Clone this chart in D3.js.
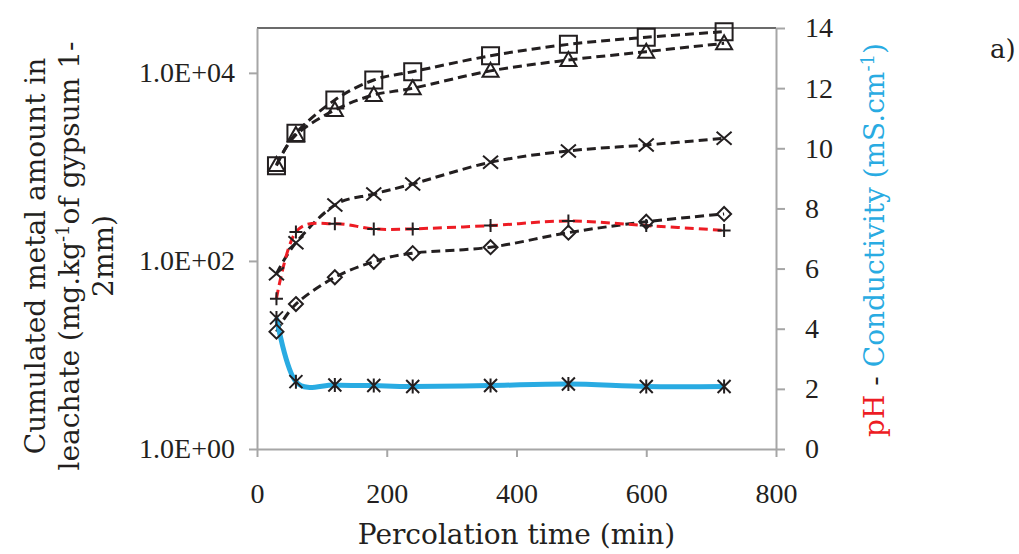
<!DOCTYPE html>
<html>
<head>
<meta charset="utf-8">
<script src="https://cdn.jsdelivr.net/npm/d3@7"></script>
<style>
  html, body { margin: 0; padding: 0; background: #ffffff; }
  svg { display: block; }
</style>
</head>
<body>
<div id="chart"></div>
<script>
// ---- data ----
const times = [30, 60, 120, 180, 240, 360, 480, 600, 720];
const squareVals   = [1030, 2280, 5150, 8400, 10300, 15200, 20100, 23900, 27400];
const triangleVals = [1050, 2190, 4030, 5820, 6860, 10500, 13700, 16800, 20600];
const crossVals    = [73, 156, 393, 515, 658, 1120, 1480, 1710, 2020];
const diamondVals  = [17.7, 34.8, 67, 98, 121, 140, 200, 261, 316];
const phVals       = [5.0, 7.22, 7.49, 7.32, 7.32, 7.43, 7.58, 7.43, 7.27];
const condVals     = [4.36, 2.24, 2.13, 2.11, 2.08, 2.11, 2.16, 2.08, 2.08];

const xTicks = [0, 200, 400, 600, 800];
const yLeftTicks = [1, 100, 10000];
const yRightTicks = [0, 2, 4, 6, 8, 10, 12, 14];

const W = 1019, H = 554;
const plot = { left: 257, right: 776, top: 28, bottom: 449 };
const ink = "#231f20";
const axisGray = "#a6a6a6";
const tickFont = "'Liberation Serif', serif";
const titleFont = "'DejaVu Serif', serif";

const svg = d3.select("#chart").append("svg")
  .attr("width", W).attr("height", H);

const x = d3.scaleLinear().domain([0, 800]).range([plot.left, plot.right]);
const yL = d3.scaleLog().domain([1, 30000]).range([plot.bottom, plot.top]);
const yR = d3.scaleLinear().domain([0, 14]).range([plot.bottom, plot.top]);

// top border of plot area
svg.append("line")
  .attr("x1", plot.left).attr("x2", plot.right)
  .attr("y1", plot.top).attr("y2", plot.top)
  .attr("stroke", "#3a3a3a").attr("stroke-width", 1.5);

function styleAxis(g) {
  g.selectAll("path.domain").attr("stroke", axisGray).attr("stroke-width", 2);
  g.selectAll(".tick line").attr("stroke", axisGray).attr("stroke-width", 2);
  g.selectAll(".tick text").attr("fill", ink)
    .style("font-family", tickFont).style("font-size", "28px");
}

// axes
const gx = svg.append("g").attr("transform", `translate(0,${plot.bottom})`)
  .call(d3.axisBottom(x).tickValues(xTicks).tickSizeInner(8).tickSizeOuter(0).tickPadding(26));
styleAxis(gx);

const fmtE = d => "1.0E+" + String(Math.round(Math.log10(d))).padStart(2, "0");
const gyl = svg.append("g").attr("transform", `translate(${plot.left},0)`)
  .call(d3.axisLeft(yL).tickValues(yLeftTicks).tickFormat(fmtE).tickSizeInner(8).tickSizeOuter(0).tickPadding(14));
styleAxis(gyl);

const gyr = svg.append("g").attr("transform", `translate(${plot.right},0)`)
  .call(d3.axisRight(yR).tickValues(yRightTicks).tickSizeInner(9).tickSizeOuter(0).tickPadding(20));
styleAxis(gyr);

// lines
const curve = d3.curveCardinal.tension(0);
const lineL = d3.line().x(d => x(d[0])).y(d => yL(d[1])).curve(curve);
const lineR = d3.line().x(d => x(d[0])).y(d => yR(d[1])).curve(curve);
const zip = vals => times.map((t, i) => [t, vals[i]]);

const leftSeries = [
  { vals: squareVals, marker: "square" },
  { vals: triangleVals, marker: "triangle" },
  { vals: crossVals, marker: "cross" },
  { vals: diamondVals, marker: "diamond" }
];

leftSeries.forEach(s => {
  svg.append("path").attr("d", lineL(zip(s.vals)))
    .attr("fill", "none").attr("stroke", ink).attr("stroke-width", 3)
    .attr("stroke-dasharray", "9,5");
});
svg.append("path").attr("d", lineR(zip(phVals)))
  .attr("fill", "none").attr("stroke", "#ed1c24").attr("stroke-width", 3)
  .attr("stroke-dasharray", "9,5");
svg.append("path").attr("d", lineR(zip(condVals)))
  .attr("fill", "none").attr("stroke", "#29abe2").attr("stroke-width", 5)
  .attr("stroke-linejoin", "round");

// markers
const markerPaths = {
  square: "M-8.5,-8.5H8.5V8.5H-8.5Z",
  triangle: "M0,-8L8,6H-8Z",
  cross: "M-7.5,-6.5L7.5,6.5M-7.5,6.5L7.5,-6.5",
  diamond: "M0,-7L7,0L0,7L-7,0Z",
  plus: "M-6.5,0H6.5M0,-6.5V6.5",
  star: "M-6.5,-6.5L6.5,6.5M-6.5,6.5L6.5,-6.5M0,-7V7"
};
function drawMarkers(vals, scale, type) {
  svg.append("g").selectAll("path").data(zip(vals)).join("path")
    .attr("transform", d => `translate(${x(d[0])},${scale(d[1])})`)
    .attr("d", markerPaths[type])
    .attr("fill", "none").attr("stroke", ink).attr("stroke-width", 2);
}
leftSeries.forEach(s => drawMarkers(s.vals, yL, s.marker));
drawMarkers(phVals, yR, "plus");
drawMarkers(condVals, yR, "star");

// x axis title
svg.append("text").attr("x", (plot.left + plot.right) / 2).attr("y", 544)
  .attr("text-anchor", "middle").attr("fill", ink)
  .style("font-family", titleFont).style("font-size", "28px")
  .text("Percolation time (min)");

// left axis title (3 lines)
const leftTitle = svg.append("g").style("font-family", titleFont).style("font-size", "28px").attr("fill", ink);
leftTitle.append("text").attr("transform", "translate(45,256) rotate(-90)")
  .attr("text-anchor", "middle").text("Cumulated metal amount in");
const l2 = leftTitle.append("text").attr("transform", "translate(79,256) rotate(-90)")
  .attr("text-anchor", "middle");
l2.append("tspan").text("leachate (mg.kg");
l2.append("tspan").attr("dy", -10).style("font-size", "18px").text("-1");
l2.append("tspan").attr("dy", 10).text("of gypsum 1-");
leftTitle.append("text").attr("transform", "translate(113,256) rotate(-90)")
  .attr("text-anchor", "middle").text("2mm)");

// right axis title
const rt = svg.append("text").attr("transform", "translate(884,240) rotate(-90)")
  .attr("text-anchor", "middle")
  .style("font-family", titleFont).style("font-size", "28px");
rt.append("tspan").attr("fill", "#ed1c24").text("pH");
rt.append("tspan").attr("fill", ink).text(" - ");
rt.append("tspan").attr("fill", "#29abe2").text("Conductivity (mS.cm");
rt.append("tspan").attr("fill", "#29abe2").attr("dy", -10).style("font-size", "18px").text("-1");
rt.append("tspan").attr("fill", "#29abe2").attr("dy", 10).text(")");

// panel label
svg.append("text").attr("x", 990).attr("y", 58).attr("fill", ink)
  .style("font-family", titleFont).style("font-size", "26px").text("a)");
</script>
</body>
</html>
